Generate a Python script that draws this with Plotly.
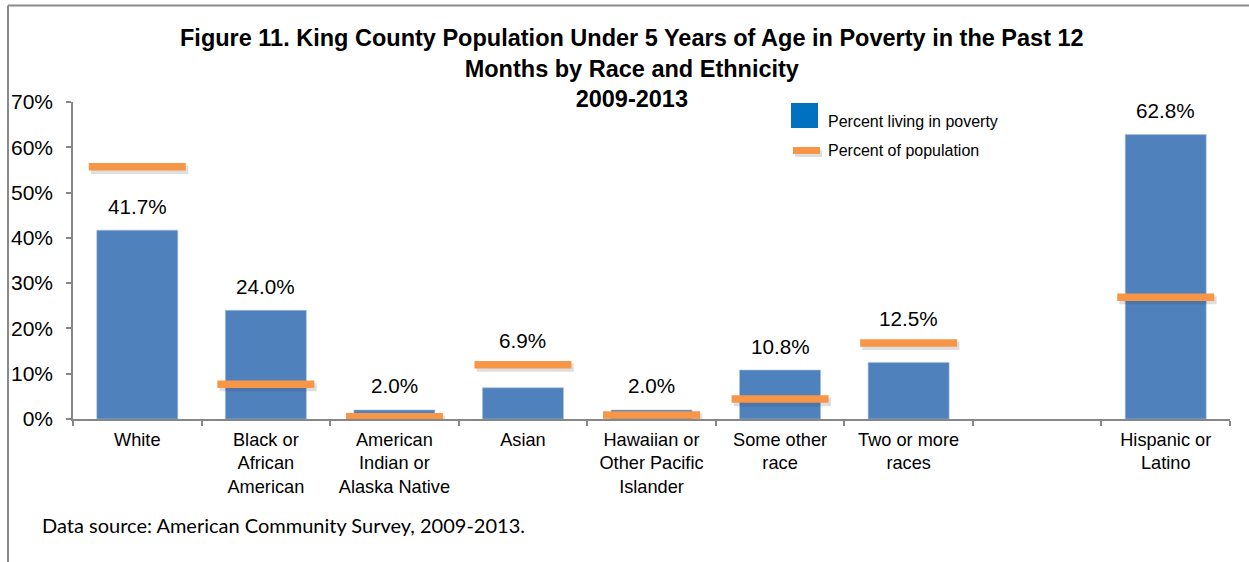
import plotly.graph_objects as go

# Race / ethnicity groups (an empty slot separates Hispanic or Latino)
categories = [
    "White",
    "Black or<br>African<br>American",
    "American<br>Indian or<br>Alaska Native",
    "Asian",
    "Hawaiian or<br>Other Pacific<br>Islander",
    "Some other<br>race",
    "Two or more<br>races",
    "",
    "Hispanic or<br>Latino",
]
# Percent of children under 5 living in poverty (None = empty slot)
pct_poverty = [0.417, 0.240, 0.020, 0.069, 0.020, 0.108, 0.125, None, 0.628]
# Percent of the under-5 population in each group
pct_population = [0.557, 0.077, 0.005, 0.120, 0.009, 0.044, 0.168, None, 0.269]
y_ticks = [0.0, 0.1, 0.2, 0.3, 0.4, 0.5, 0.6, 0.7]

title_lines = [
    "Figure 11. King County Population Under 5 Years of Age in Poverty in the Past 12",
    "Months by Race and Ethnicity",
    "2009-2013",
]
source_note = "Data source: American Community Survey, 2009-2013."

BLUE = "#4F81BD"
ORANGE = "#F79646"
AXIS = "#868686"
FONT = "Arial, Liberation Sans, sans-serif"

W, H = 1249, 562


def px(x):
    return x / W


def py(y):
    return 1 - y / H


xs = list(range(len(categories)))
xs_data = [x for x, v in zip(xs, pct_poverty) if v is not None]
pov = [v for v in pct_poverty if v is not None]
pop = [v for v in pct_population if v is not None]

# line-ew markers draw 1.4x their nominal size
MARK_LEN = 97 / 1.4

fig = go.Figure()

fig.add_trace(go.Bar(
    x=xs_data, y=pov, width=0.63,
    marker=dict(color=BLUE, line=dict(color="#A7C0DE", width=0.6)),
    hoverinfo="skip", showlegend=False,
))

# soft drop shadow under the population markers
fig.add_trace(go.Scatter(
    x=[x + 0.018 for x in xs_data], y=[v - 0.007 for v in pop],
    mode="markers",
    marker=dict(symbol="line-ew", size=MARK_LEN,
                line=dict(color="rgba(60,60,60,0.17)", width=8)),
    hoverinfo="skip", showlegend=False,
))
fig.add_trace(go.Scatter(
    x=xs_data, y=pop, mode="markers",
    marker=dict(symbol="line-ew", size=MARK_LEN,
                line=dict(color=ORANGE, width=7.5)),
    hoverinfo="skip", showlegend=False,
))

annotations = []
# value labels: above the bar, or above the population marker when it sits just over the bar
for x, b, p in zip(xs_data, pov, pop):
    anchor = p if b < p < b + 0.08 else b
    annotations.append(dict(
        x=x, y=anchor, xref="x", yref="y", text=f"{b*100:.1f}%",
        showarrow=False, yanchor="middle", yshift=24,
        font=dict(family=FONT, size=20.7, color="#000000"),
    ))

annotations.append(dict(
    x=px(632), y=py(68), xref="paper", yref="paper",
    text="<br>".join(f"<b>{t}</b>" for t in title_lines),
    showarrow=False, xanchor="center", yanchor="middle", align="center",
    font=dict(family=FONT, size=23.5, color="#000000"),
))

# legend
annotations.append(dict(
    x=px(826), y=py(122), xref="paper", yref="paper", text="Percent living in poverty",
    showarrow=False, xanchor="left", yanchor="middle",
    font=dict(family=FONT, size=16, color="#000000"),
))
annotations.append(dict(
    x=px(826), y=py(151), xref="paper", yref="paper", text="Percent of population",
    showarrow=False, xanchor="left", yanchor="middle",
    font=dict(family=FONT, size=16, color="#000000"),
))
annotations.append(dict(
    x=px(40), y=py(525), xref="paper", yref="paper", text=source_note,
    showarrow=False, xanchor="left", yanchor="middle",
    font=dict(family="Lato, Carlito, sans-serif", size=20, color="#000000"),
))

shapes = [
    # outer frame (top and left edges)
    dict(type="line", xref="paper", yref="paper", x0=px(8), x1=1, y0=py(5.5), y1=py(5.5),
         line=dict(color="#8A8A8A", width=2)),
    dict(type="line", xref="paper", yref="paper", x0=px(8), x1=px(8), y0=py(5.5), y1=0,
         line=dict(color="#8A8A8A", width=2)),
    # legend swatches
    dict(type="rect", xref="paper", yref="paper", x0=px(791), x1=px(818), y0=py(128), y1=py(103),
         fillcolor="#0070C0", line=dict(width=0)),
    dict(type="line", xref="paper", yref="paper", x0=px(795), x1=px(822), y0=py(153.5), y1=py(153.5),
         line=dict(color="rgba(60,60,60,0.17)", width=7)),
    dict(type="line", xref="paper", yref="paper", x0=px(793), x1=px(820), y0=py(150.5), y1=py(150.5),
         line=dict(color=ORANGE, width=7)),
]

fig.update_layout(
    width=W, height=H, autosize=False,
    margin=dict(l=0, r=0, t=0, b=0, pad=0, autoexpand=False),
    paper_bgcolor="white", plot_bgcolor="white",
    font=dict(family=FONT, color="#000000"),
    showlegend=False,
    annotations=annotations,
    shapes=shapes,
    xaxis=dict(
        domain=[px(73), px(1230)],
        range=[-0.5, len(categories) - 0.5],
        tickmode="array", tickvals=xs, ticktext=categories,
        ticks="", showgrid=False, zeroline=False, automargin=False,
        showline=True, linecolor=AXIS, linewidth=1.5,
        tickfont=dict(family=FONT, size=18.2, color="#000000"),
        ticklabelstandoff=3,
        minor=dict(tickmode="array",
                   tickvals=[x - 0.5 for x in xs] + [len(categories) - 0.5],
                   ticks="outside", ticklen=5, tickcolor=AXIS, tickwidth=1.5,
                   showgrid=False),
        fixedrange=True,
    ),
    yaxis=dict(
        domain=[py(419), py(102)],
        range=[0, 0.7],
        tickmode="array", tickvals=y_ticks, tickformat=".0%",
        ticks="outside", ticklen=5, tickcolor=AXIS, tickwidth=1.5,
        showgrid=False, zeroline=False, automargin=False,
        showline=True, linecolor=AXIS, linewidth=1.5,
        tickfont=dict(family=FONT, size=21, color="#000000"),
        ticklabelstandoff=9,
        fixedrange=True,
    ),
    bargap=0.37,
)

fig.write_html("out.html", config={"displayModeBar": False})
